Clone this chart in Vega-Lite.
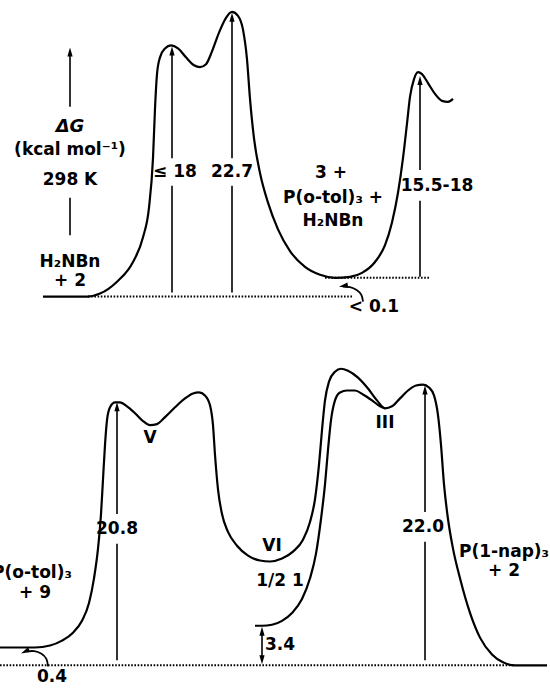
{
  "$schema": "https://vega.github.io/schema/vega-lite/v6.json",
  "autosize": {"type": "fit", "contains": "padding"},
  "width": 550,
  "height": 692,
  "padding": 0,
  "background": "white",
  "config": {"view": {"stroke": null}},
  "datasets": {
    "curves": [
      {"c":"top","i":1,"x":43,"y":300},{"c":"top","i":2,"x":88,"y":300},{"c":"top","i":3,"x":100,"y":297},{"c":"top","i":4,"x":117,"y":285},{"c":"top","i":5,"x":133,"y":265},{"c":"top","i":6,"x":143,"y":240},{"c":"top","i":7,"x":149,"y":210},{"c":"top","i":8,"x":153,"y":160},{"c":"top","i":9,"x":155,"y":110},{"c":"top","i":10,"x":157,"y":75},{"c":"top","i":11,"x":160,"y":58},{"c":"top","i":12,"x":165,"y":49},{"c":"top","i":13,"x":171,"y":46},{"c":"top","i":14,"x":178,"y":49},{"c":"top","i":15,"x":186,"y":58},{"c":"top","i":16,"x":194,"y":66},{"c":"top","i":17,"x":200,"y":68},{"c":"top","i":18,"x":206,"y":65},{"c":"top","i":19,"x":212,"y":52},{"c":"top","i":20,"x":219,"y":33},{"c":"top","i":21,"x":226,"y":18},{"c":"top","i":22,"x":232,"y":12},{"c":"top","i":23,"x":238,"y":16},{"c":"top","i":24,"x":243,"y":30},{"c":"top","i":25,"x":247,"y":60},{"c":"top","i":26,"x":250,"y":100},{"c":"top","i":27,"x":254,"y":140},{"c":"top","i":28,"x":260,"y":175},{"c":"top","i":29,"x":268,"y":205},{"c":"top","i":30,"x":278,"y":232},{"c":"top","i":31,"x":290,"y":254},{"c":"top","i":32,"x":305,"y":270},{"c":"top","i":33,"x":320,"y":278},{"c":"top","i":34,"x":335,"y":281},{"c":"top","i":35,"x":350,"y":280},{"c":"top","i":36,"x":362,"y":276},{"c":"top","i":37,"x":375,"y":265},{"c":"top","i":38,"x":385,"y":248},{"c":"top","i":39,"x":392,"y":225},{"c":"top","i":40,"x":398,"y":195},{"c":"top","i":41,"x":403,"y":160},{"c":"top","i":42,"x":407,"y":125},{"c":"top","i":43,"x":410,"y":98},{"c":"top","i":44,"x":414,"y":80},{"c":"top","i":45,"x":418,"y":73},{"c":"top","i":46,"x":422,"y":75},{"c":"top","i":47,"x":428,"y":84},{"c":"top","i":48,"x":435,"y":95},{"c":"top","i":49,"x":442,"y":102},{"c":"top","i":50,"x":448,"y":103},{"c":"top","i":51,"x":453,"y":100},
      {"c":"a","i":1,"x":-2,"y":655},{"c":"a","i":2,"x":35,"y":655},{"c":"a","i":3,"x":50,"y":653},{"c":"a","i":4,"x":62,"y":648},{"c":"a","i":5,"x":73,"y":640},{"c":"a","i":6,"x":82,"y":628},{"c":"a","i":7,"x":89,"y":610},{"c":"a","i":8,"x":94,"y":585},{"c":"a","i":9,"x":98,"y":555},{"c":"a","i":10,"x":101,"y":520},{"c":"a","i":11,"x":103,"y":485},{"c":"a","i":12,"x":105,"y":450},{"c":"a","i":13,"x":107,"y":425},{"c":"a","i":14,"x":110,"y":412},{"c":"a","i":15,"x":115,"y":407},{"c":"a","i":16,"x":120,"y":407},{"c":"a","i":17,"x":127,"y":411},{"c":"a","i":18,"x":135,"y":418},{"c":"a","i":19,"x":143,"y":426},{"c":"a","i":20,"x":150,"y":430},{"c":"a","i":21,"x":157,"y":429},{"c":"a","i":22,"x":165,"y":422},{"c":"a","i":23,"x":175,"y":412},{"c":"a","i":24,"x":185,"y":403},{"c":"a","i":25,"x":193,"y":398},{"c":"a","i":26,"x":199,"y":397},{"c":"a","i":27,"x":205,"y":400},{"c":"a","i":28,"x":210,"y":410},{"c":"a","i":29,"x":213,"y":430},{"c":"a","i":30,"x":215,"y":460},{"c":"a","i":31,"x":218,"y":495},{"c":"a","i":32,"x":222,"y":520},{"c":"a","i":33,"x":228,"y":538},{"c":"a","i":34,"x":237,"y":552},{"c":"a","i":35,"x":248,"y":562},{"c":"a","i":36,"x":260,"y":567},{"c":"a","i":37,"x":270,"y":568},{"c":"a","i":38,"x":282,"y":565},{"c":"a","i":39,"x":293,"y":558},{"c":"a","i":40,"x":303,"y":546},{"c":"a","i":41,"x":310,"y":528},{"c":"a","i":42,"x":315,"y":505},{"c":"a","i":43,"x":319,"y":470},{"c":"a","i":44,"x":322,"y":435},{"c":"a","i":45,"x":325,"y":405},{"c":"a","i":46,"x":329,"y":386},{"c":"a","i":47,"x":335,"y":376},{"c":"a","i":48,"x":341,"y":373},{"c":"a","i":49,"x":348,"y":375},{"c":"a","i":50,"x":358,"y":382},{"c":"a","i":51,"x":368,"y":393},{"c":"a","i":52,"x":377,"y":405},{"c":"a","i":53,"x":385,"y":413},{"c":"a","i":54,"x":392,"y":411},{"c":"a","i":55,"x":400,"y":403},{"c":"a","i":56,"x":408,"y":395},{"c":"a","i":57,"x":416,"y":390},{"c":"a","i":58,"x":423,"y":389},{"c":"a","i":59,"x":429,"y":392},{"c":"a","i":60,"x":434,"y":400},{"c":"a","i":61,"x":438,"y":420},{"c":"a","i":62,"x":441,"y":450},{"c":"a","i":63,"x":444,"y":490},{"c":"a","i":64,"x":448,"y":525},{"c":"a","i":65,"x":453,"y":555},{"c":"a","i":66,"x":460,"y":585},{"c":"a","i":67,"x":470,"y":620},{"c":"a","i":68,"x":480,"y":645},{"c":"a","i":69,"x":492,"y":662},{"c":"a","i":70,"x":503,"y":670},{"c":"a","i":71,"x":515,"y":673},{"c":"a","i":72,"x":547,"y":673},
      {"c":"b","i":1,"x":255,"y":633},{"c":"b","i":2,"x":262,"y":633},{"c":"b","i":3,"x":272,"y":632},{"c":"b","i":4,"x":282,"y":628},{"c":"b","i":5,"x":292,"y":620},{"c":"b","i":6,"x":302,"y":606},{"c":"b","i":7,"x":310,"y":585},{"c":"b","i":8,"x":316,"y":560},{"c":"b","i":9,"x":321,"y":525},{"c":"b","i":10,"x":325,"y":490},{"c":"b","i":11,"x":328,"y":455},{"c":"b","i":12,"x":331,"y":425},{"c":"b","i":13,"x":335,"y":405},{"c":"b","i":14,"x":340,"y":397},{"c":"b","i":15,"x":347,"y":395},{"c":"b","i":16,"x":355,"y":395},{"c":"b","i":17,"x":363,"y":399},{"c":"b","i":18,"x":372,"y":405},{"c":"b","i":19,"x":380,"y":411},{"c":"b","i":20,"x":385,"y":413}
    ],
    "hooks": [
      {"c":"h1","i":1,"x":363,"y":305},{"c":"h1","i":2,"x":362,"y":298},{"c":"h1","i":3,"x":357,"y":293},{"c":"h1","i":4,"x":350,"y":290},{"c":"h1","i":5,"x":343,"y":290},
      {"c":"h2","i":1,"x":48,"y":674},{"c":"h2","i":2,"x":47,"y":666},{"c":"h2","i":3,"x":42,"y":661},{"c":"h2","i":4,"x":34,"y":658},{"c":"h2","i":5,"x":27,"y":659}
    ],
    "dots": [
      {"x":88,"x2":352,"y":300},
      {"x":325,"x2":430,"y":281},
      {"x":0,"x2":515,"y":673}
    ],
    "segs": [
      {"x":70,"y":108,"x2":70,"y2":55},
      {"x":70,"y":200,"x2":70,"y2":238},
      {"x":172,"y":296,"x2":172,"y2":188},
      {"x":172,"y":160,"x2":172,"y2":54},
      {"x":232,"y":296,"x2":232,"y2":188},
      {"x":232,"y":160,"x2":232,"y2":20},
      {"x":420,"y":280,"x2":420,"y2":203},
      {"x":420,"y":172,"x2":420,"y2":84},
      {"x":117,"y":668,"x2":117,"y2":550},
      {"x":117,"y":520,"x2":117,"y2":414},
      {"x":425,"y":668,"x2":425,"y2":548},
      {"x":425,"y":518,"x2":425,"y2":397},
      {"x":262,"y":638,"x2":262,"y2":668}
    ],
    "heads": [
      {"x":70,"y":48,"a":0},
      {"x":172,"y":47,"a":0},
      {"x":232,"y":13,"a":0},
      {"x":420,"y":77,"a":0},
      {"x":117,"y":407,"a":0},
      {"x":425,"y":390,"a":0},
      {"x":262,"y":634,"a":0},
      {"x":262,"y":672,"a":180},
      {"x":339,"y":290,"a":260},
      {"x":21,"y":661,"a":245}
    ],
    "labels": [
      {"t":"(kcal mol⁻¹)","x":70,"y":152},
      {"t":"298 K","x":70,"y":182},
      {"t":"H₂NBn","x":70,"y":265},
      {"t":"+  2","x":70,"y":284},
      {"t":"≤ 18","x":175,"y":174},
      {"t":"22.7","x":232,"y":174},
      {"t":"3  +","x":331,"y":175},
      {"t":"P(o-tol)₃ +","x":333,"y":200},
      {"t":"H₂NBn","x":333,"y":224},
      {"t":"15.5-18","x":437,"y":188},
      {"t":"<  0.1","x":374,"y":311},
      {"t":"V","x":150,"y":443},
      {"t":"VI","x":272,"y":552},
      {"t":"III","x":385,"y":428},
      {"t":"20.8","x":117,"y":535},
      {"t":"22.0","x":423,"y":533},
      {"t":"P(o-tol)₃","x":32,"y":580},
      {"t":"+  9","x":35,"y":600},
      {"t":"1/2 1","x":280,"y":588},
      {"t":"P(1-nap)₃","x":504,"y":558},
      {"t":"+  2","x":504,"y":578},
      {"t":"3.4","x":280,"y":652},
      {"t":"0.4","x":52,"y":685}
    ],
    "italic": [
      {"t":"ΔG","x":70,"y":128}
    ]
  },
  "layer": [
    {
      "data": {"name": "dots"},
      "mark": {"type": "rule", "strokeDash": [1.6, 1.6], "strokeWidth": 2, "color": "black", "clip": true},
      "encoding": {
        "x": {"field": "x", "type": "quantitative", "scale": {"domain": [0, 550]}, "axis": null},
        "x2": {"field": "x2"},
        "y": {"field": "y", "type": "quantitative", "scale": {"domain": [692, 0]}, "axis": null}
      }
    },
    {
      "data": {"name": "curves"},
      "mark": {"type": "line", "interpolate": "monotone", "strokeWidth": 2.2, "color": "black", "clip": true},
      "encoding": {
        "x": {"field": "x", "type": "quantitative"},
        "y": {"field": "y", "type": "quantitative"},
        "detail": {"field": "c"},
        "order": {"field": "i"}
      }
    },
    {
      "data": {"name": "hooks"},
      "mark": {"type": "line", "interpolate": "basis", "strokeWidth": 1.8, "color": "black", "clip": true},
      "encoding": {
        "x": {"field": "x", "type": "quantitative"},
        "y": {"field": "y", "type": "quantitative"},
        "detail": {"field": "c"},
        "order": {"field": "i"}
      }
    },
    {
      "data": {"name": "segs"},
      "mark": {"type": "rule", "strokeWidth": 1.6, "color": "black", "clip": true},
      "encoding": {
        "x": {"field": "x", "type": "quantitative"},
        "y": {"field": "y", "type": "quantitative"},
        "x2": {"field": "x2"},
        "y2": {"field": "y2"}
      }
    },
    {
      "data": {"name": "heads"},
      "mark": {"type": "point", "shape": "M0,0L0.7,2.4L-0.7,2.4Z", "size": 56, "filled": true, "color": "black", "opacity": 1, "strokeWidth": 0, "clip": true},
      "encoding": {
        "x": {"field": "x", "type": "quantitative"},
        "y": {"field": "y", "type": "quantitative"},
        "angle": {"field": "a", "type": "quantitative", "scale": null}
      }
    },
    {
      "data": {"name": "labels"},
      "mark": {"type": "text", "font": "DejaVu Sans", "fontWeight": "bold", "fontSize": 17, "align": "center", "baseline": "middle", "color": "black", "clip": true},
      "encoding": {
        "x": {"field": "x", "type": "quantitative"},
        "y": {"field": "y", "type": "quantitative"},
        "text": {"field": "t"}
      }
    },
    {
      "data": {"name": "italic"},
      "mark": {"type": "text", "font": "DejaVu Sans", "fontWeight": "bold", "fontStyle": "italic", "fontSize": 18, "align": "center", "baseline": "middle", "color": "black", "clip": true},
      "encoding": {
        "x": {"field": "x", "type": "quantitative"},
        "y": {"field": "y", "type": "quantitative"},
        "text": {"field": "t"}
      }
    }
  ]
}
